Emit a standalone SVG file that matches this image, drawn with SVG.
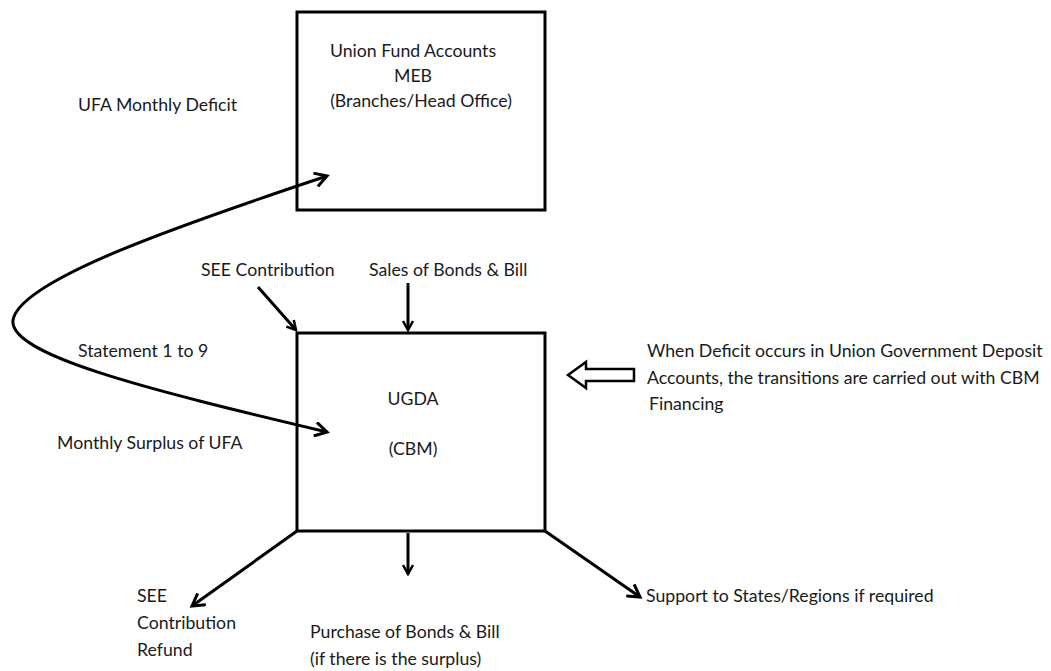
<svg xmlns="http://www.w3.org/2000/svg" width="1051" height="671" viewBox="0 0 1051 671">
<style>
text{font-family:Lato,"Open Sans","Liberation Sans",sans-serif;font-size:17.7px;fill:#1a1a1a}
.box{fill:#fff;stroke:#000;stroke-width:3}
.con{fill:none;stroke:#000;stroke-width:3}
</style>
<defs>
<marker id="ah" viewBox="0 0 12 12" refX="10" refY="6" markerWidth="12" markerHeight="12" markerUnits="userSpaceOnUse" orient="auto-start-reverse">
<polyline points="1,1 10,6 1,11" fill="none" stroke="#000" stroke-width="2.5"/>
</marker>
<marker id="ah2" viewBox="0 0 16 16" refX="13" refY="8" markerWidth="16" markerHeight="16" markerUnits="userSpaceOnUse" orient="auto-start-reverse">
<polyline points="1,1 13,8 1,15" fill="none" stroke="#000" stroke-width="3"/>
</marker>
</defs>
<rect width="1051" height="671" fill="#fff"/>
<g id="ufa">
<rect class="box" x="297" y="12" width="248" height="198"/>
<text x="413" y="57" text-anchor="middle">Union Fund Accounts</text>
<text x="413" y="82" text-anchor="middle">MEB</text>
<text x="421" y="107" text-anchor="middle">(Branches/Head Office)</text>
</g>
<g id="ugda">
<rect class="box" x="297" y="333" width="248" height="198"/>
<text x="413" y="405" text-anchor="middle">UGDA</text>
<text x="413" y="455" text-anchor="middle">(CBM)</text>
</g>
<g id="labels">
<text x="78" y="111">UFA Monthly Deficit</text>
<text x="201" y="276">SEE Contribution</text>
<text x="369" y="276">Sales of Bonds &amp; Bill</text>
<text x="78" y="357">Statement 1 to 9</text>
<text x="57" y="449">Monthly Surplus of UFA</text>
<text x="647" y="357">When Deficit occurs in Union Government Deposit</text>
<text x="647" y="384">Accounts, the transitions are carried out with CBM</text>
<text x="649" y="410">Financing</text>
<text x="137" y="602">SEE</text>
<text x="137" y="629">Contribution</text>
<text x="137" y="656">Refund</text>
<text x="310" y="638">Purchase of Bonds &amp; Bill</text>
<text x="310" y="665">(if there is the surplus)</text>
<text x="646" y="602">Support to States/Regions if required</text>
</g>
<g id="connectors">
<path class="con" d="M327,432 C150,390 8,355 13,320 C20,280 180,225 327,176" marker-end="url(#ah2)" marker-start="url(#ah2)"/>
<line class="con" x1="258" y1="287" x2="296" y2="330" marker-end="url(#ah)"/>
<line class="con" x1="408" y1="283" x2="408" y2="330" marker-end="url(#ah)"/>
<line class="con" x1="297" y1="531" x2="192" y2="606" marker-end="url(#ah2)"/>
<line class="con" x1="408" y1="533" x2="408" y2="574" marker-end="url(#ah)"/>
<line class="con" x1="545" y1="531" x2="640" y2="597" marker-end="url(#ah2)"/>
<polygon points="568,375 586,362 586,369 634,369 634,381 586,381 586,388" fill="#fff" stroke="#000" stroke-width="2.5"/>
</g>
</svg>
